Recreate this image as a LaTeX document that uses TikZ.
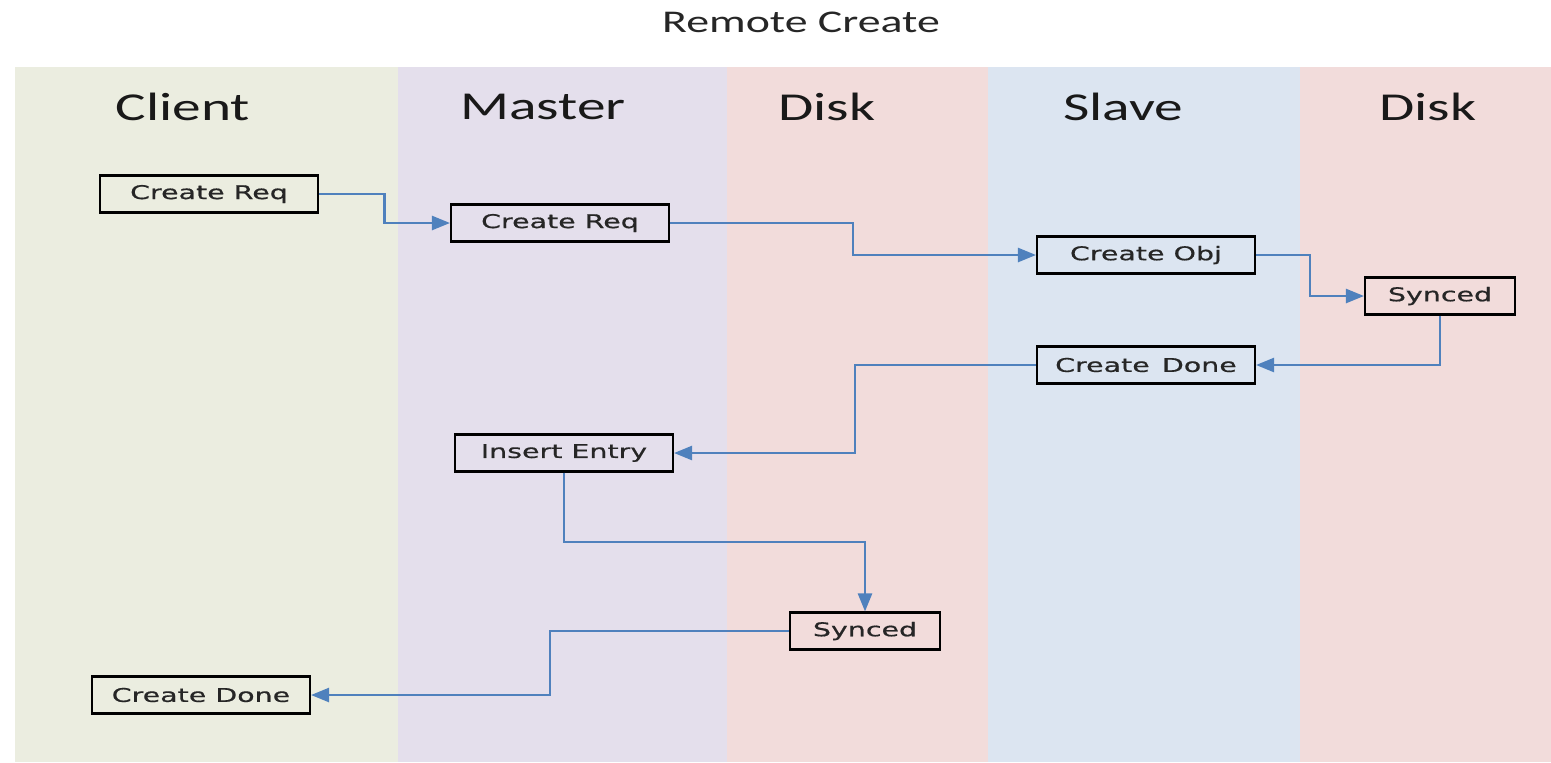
\documentclass[tikz,border=0pt]{standalone}
\usepackage{fontspec}
\setmainfont[FakeStretch=1.45]{Carlito}
\newfontfamily\boxfont[FakeStretch=1.5,FakeBold=0.6]{DejaVu Sans}
\usetikzlibrary{arrows.meta,positioning,calc}

\definecolor{clientbg}{RGB}{235,237,224}
\definecolor{masterbg}{RGB}{228,223,236}
\definecolor{diskbg}{RGB}{242,220,219}
\definecolor{slavebg}{RGB}{220,229,241}
\definecolor{flowblue}{RGB}{79,129,189}

\begin{document}
\begin{tikzpicture}[
  x=0.02cm, y=-0.02cm,
  box/.style={draw, line width=1.2pt, minimum width=4.36cm, minimum height=0.74cm,
    inner sep=0pt, font=\boxfont\fontsize{10.8}{12}\selectfont, text=black!85},
  smallbox/.style={box, minimum width=3cm},
  lanehead/.style={font=\fontsize{22.5}{26}\selectfont, text=black!90},
  arr/.style={-{Triangle[length=0.36cm, width=0.28cm]}, draw=flowblue, line width=1.4pt}
]
\useasboundingbox (0,0) rectangle (1551,762);

% swim lanes
\fill[clientbg] (15,67) rectangle (398,762);
\fill[masterbg] (398,67) rectangle (727,762);
\fill[diskbg]   (727,67) rectangle (988,762);
\fill[slavebg]  (988,67) rectangle (1300,762);
\fill[diskbg]   (1300,67) rectangle (1551,762);

\node[font=\fontsize{18}{21}\selectfont, text=black!85] (title) at (801,22) {Remote Create};

\node[lanehead] (hclient) at (183,107) {Client};
\node[lanehead] (hmaster) at (543,107) {Master};
\node[lanehead] (hdisk1)  at (827,107) {Disk};
\node[lanehead] (hslave)  at (1123,107) {Slave};
\node[lanehead] (hdisk2)  at (1428,107) {Disk};

% steps
\node[box] (creq1) at (209,194) {Create Req};
\node[box] (creq2) at (560,223) {Create Req};
\node[box] (cobj) at (1146,255) {Create Obj};
\node[smallbox] (sync1) at (1440,296) {Synced};
\node[box] (cdone1) at (1146,365) {Create\ \,Done};
\node[box] (insert) at (564,453) {Insert Entry};
\node[smallbox] (sync2) at (865,631) {Synced};
\node[box] (cdone2) at (201,695) {Create Done};

\draw[arr] (creq1.east) -| ($(creq1.east)!0.5!(creq2.west)$) |- (creq2.west);
\draw[arr] (creq2.east) -| ($(creq2.east)!0.5!(cobj.west)$) |- (cobj.west);
\draw[arr] (cobj.east) -| ($(cobj.east)!0.5!(sync1.west)$) |- (sync1.west);
\draw[arr] (sync1.south) |- (cdone1.east);
\draw[arr] (cdone1.west) -| ($(cdone1.west)!0.5!(insert.east)$) |- (insert.east);
\draw[arr] (insert.south) |- ($(insert.south)!0.5!(sync2.north)$) -| (sync2.north);
\draw[arr] (sync2.west) -| ($(sync2.west)!0.5!(cdone2.east)$) |- (cdone2.east);

\end{tikzpicture}
\end{document}
